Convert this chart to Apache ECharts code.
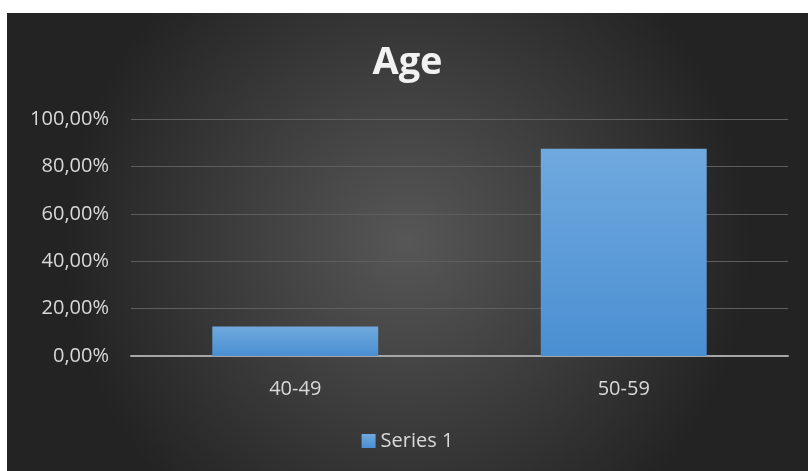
<!DOCTYPE html>
<html><head><meta charset="utf-8">
<script src="https://cdn.jsdelivr.net/npm/echarts@6/dist/echarts.min.js"></script>
<style>html,body{margin:0;padding:0;background:#fff;width:808px;height:471px;overflow:hidden}
#c{position:absolute;left:7px;top:13px;width:801px;height:458px}</style>
</head><body><div id="c"></div>
<script>
const categories = ['40-49', '50-59'];
const seriesName = 'Series 1';
const values = [0.125, 0.875];
const titleText = 'Age';

const chart = echarts.init(document.getElementById('c'), null, {renderer: 'canvas'});
chart.setOption({
  backgroundColor: {type: 'radial', x: 0.5, y: 0.5, r: 0.75, colorStops: [
    {offset: 0, color: '#575757'}, {offset: 1, color: '#232323'}]},
  title: {text: titleText, left: 'center', top: 26,
    textStyle: {color: '#f2f2f2', fontSize: 38, fontWeight: 'bold', fontFamily: 'Open Sans'}},
  grid: {left: 124, right: 20, top: 106, bottom: 115, containLabel: false},
  legend: {data: [seriesName], bottom: 15, left: 410, itemWidth: 14, itemHeight: 14,
    icon: 'rect', itemGap: 6, left: 'center',
    textStyle: {color: '#d9d9d9', fontSize: 20, fontFamily: 'Open Sans'}},
  xAxis: {type: 'category', data: categories,
    axisLine: {lineStyle: {color: '#a6a6a6', width: 2}},
    axisTick: {show: false},
    axisLabel: {color: '#d9d9d9', fontSize: 20, margin: 23, fontFamily: 'Open Sans'}},
  yAxis: {type: 'value', min: 0, max: 1, interval: 0.2,
    axisLine: {show: false}, axisTick: {show: false},
    splitLine: {lineStyle: {color: '#5e5e5e', width: 1}},
    axisLabel: {color: '#d9d9d9', fontSize: 20, margin: 22, fontFamily: 'Open Sans',
      formatter: v => (v * 100).toFixed(2).replace('.', ',') + '%'}},
  series: [{name: seriesName, type: 'bar', data: values, barWidth: '50.5%',
    itemStyle: {color: {type: 'linear', x: 0, y: 0, x2: 0, y2: 1, colorStops: [
      {offset: 0, color: '#70a9de'}, {offset: 1, color: '#4a8fd2'}]},
      shadowColor: 'rgba(0,0,0,0.45)', shadowBlur: 8}}]
});
</script></body></html>
